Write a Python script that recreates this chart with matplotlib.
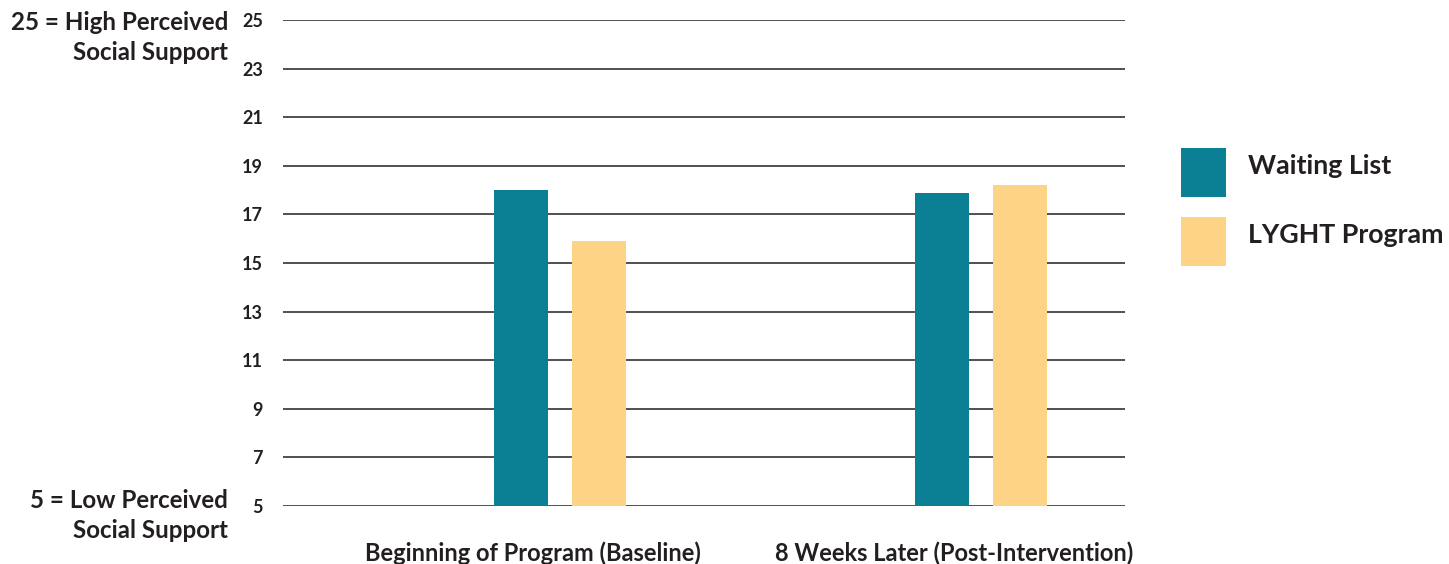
import numpy as np
import matplotlib
matplotlib.use("Agg")
import matplotlib.pyplot as plt
import matplotlib.patches as mpatches
import matplotlib.transforms as mtransforms

# ── Data ──────────────────────────────────────────────────────────────────
GROUPS = ["Beginning of Program (Baseline)", "8 Weeks Later (Post-Intervention)"]
WAITING = [18.0, 17.9]
LYGHT = [15.9, 18.2]
SERIES = ["Waiting List", "LYGHT Program"]
YTICKS = [5, 7, 9, 11, 13, 15, 17, 19, 21, 23, 25]

# ── Styling ───────────────────────────────────────────────────────────────
TEAL = "#0B7F93"
GOLD = "#FDD486"
INK = "#231F20"
FONT = "Lato"

plt.rcParams["font.family"] = [FONT, "DejaVu Sans"]
plt.rcParams["font.weight"] = "bold"

fig = plt.figure(figsize=(14.49, 5.64), dpi=100)
ax = fig.add_axes([0.1953, 0.1028, 0.5811, 0.8617])

x = np.arange(len(GROUPS))
width = 0.128
offset = 0.0926
ax.bar(x - offset, np.array(WAITING) - 5, width, bottom=5, color=TEAL, zorder=3)
ax.bar(x + offset, np.array(LYGHT) - 5, width, bottom=5, color=GOLD, zorder=3)

ax.set_xlim(-0.658, 1.342)
ax.set_ylim(5, 25)
for yv in YTICKS:
    ax.axhline(yv, color=INK, lw=1.1, zorder=2)

ax.set_yticks(YTICKS)
ax.set_yticklabels([str(v) for v in YTICKS], fontsize=13, fontweight="bold", color=INK)
ax.tick_params(axis="y", length=0, pad=14.5)
ax.set_xticks([])
for spine in ax.spines.values():
    spine.set_visible(False)

# category labels under the baseline, nudged a little left of the bar pairs
shift = mtransforms.ScaledTranslation(-27 / 100, 0, fig.dpi_scale_trans)
trans = mtransforms.blended_transform_factory(ax.transData, fig.transFigure) + shift
for xi, label in zip(x, GROUPS):
    ax.text(xi, 1 - 553 / 564, label, transform=trans,
            ha="center", va="center", fontsize=17, fontweight="bold", color=INK)

# scale end annotations
notes = [
    (22, "25 = High Perceived"),
    (53, "Social Support"),
    (500, "5 = Low Perceived"),
    (530, "Social Support"),
]
for ypx, txt in notes:
    fig.text(228 / 1449, 1 - ypx / 564, txt, ha="right", va="center",
             fontsize=17.4, fontweight="bold", color=INK)

# legend squares and labels
for i, (name, col) in enumerate(zip(SERIES, [TEAL, GOLD])):
    top = 148 + i * 69
    fig.patches.append(mpatches.Rectangle(
        (1181 / 1449, 1 - (top + 49) / 564), 45 / 1449, 49 / 564,
        transform=fig.transFigure, facecolor=col, edgecolor="none"))
    fig.text(1248 / 1449, 1 - (top + 18) / 564, name, ha="left", va="center",
             fontsize=19.3, fontweight="bold", color=INK)

fig.savefig("out.png", dpi=100, facecolor="white")
